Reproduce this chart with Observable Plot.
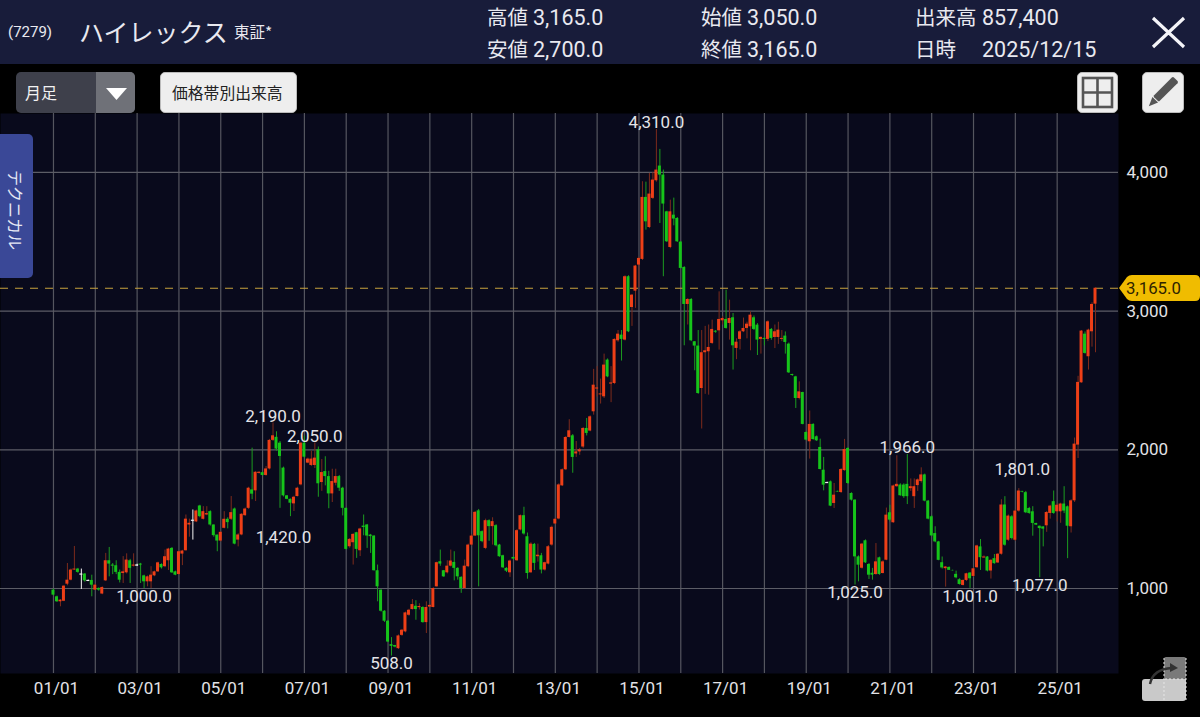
<!DOCTYPE html>
<html lang="ja">
<head>
<meta charset="utf-8">
<script src="https://cdn.jsdelivr.net/npm/d3@7"></script>
<script src="https://cdn.jsdelivr.net/npm/@observablehq/plot@0.6"></script>
<style>
html,body{margin:0;padding:0;background:#000;width:1200px;height:717px;overflow:hidden;font-family:Roboto,"Noto Sans CJK JP",sans-serif;color:#e9e9f0}
#top{position:relative;width:1200px;height:113px;background:#000}
#hdr{position:absolute;left:0;top:0;width:1200px;height:64px;background:#181c3a}
.t{position:absolute;white-space:nowrap;line-height:1}
.j{font-family:"Noto Sans CJK JP";font-size:20.5px}
.n{font-family:Roboto;font-size:21.5px}
.btn{position:absolute;top:72px;height:41px;background:#eeeeee;border-radius:5px;box-sizing:border-box;border:1px solid #bbb}
#chart{display:block;width:1200px;height:604px}
#tab{position:absolute;left:0;top:134px;width:33px;height:144px;background:#3a4897;border-radius:0 5px 5px 0}
#tab span{position:absolute;left:6px;top:36px;writing-mode:vertical-rl;text-orientation:sideways;font:16px/20px "Noto Sans CJK JP";color:#e6e8f5}
.ov{position:absolute;left:0;top:0;pointer-events:none}
</style>
</head>
<body>
<div id="top">
  <div id="hdr"></div>
  <span class="t" style="left:8px;top:25px;font-size:15px">(7279)</span>
  <span class="t" style="left:79px;top:19px;font-family:'Noto Sans CJK JP';font-size:25px">ハイレックス</span>
  <span class="t" style="left:234px;top:24px;font-family:'Noto Sans CJK JP';font-size:15.5px">東証*</span>
  <span class="t j" style="left:487px;top:6px">高値</span><span class="t n" style="left:533px;top:7px">3,165.0</span>
  <span class="t j" style="left:487px;top:38px">安値</span><span class="t n" style="left:533px;top:39px">2,700.0</span>
  <span class="t j" style="left:701px;top:6px">始値</span><span class="t n" style="left:747px;top:7px">3,050.0</span>
  <span class="t j" style="left:701px;top:38px">終値</span><span class="t n" style="left:747px;top:39px">3,165.0</span>
  <span class="t j" style="left:915px;top:6px">出来高</span><span class="t n" style="left:982px;top:7px">857,400</span>
  <span class="t j" style="left:915px;top:38px">日時</span><span class="t n" style="left:982px;top:39px">2025/12/15</span>
  <div style="position:absolute;left:16px;top:72px;width:119px;height:41px;background:#3e404b;border-radius:5px;overflow:hidden">
    <div style="position:absolute;left:80px;top:0;width:39px;height:41px;background:#6f7178"></div>
  </div>
  <span class="t" style="left:25px;top:80px;font:16px/24px 'Noto Sans CJK JP';color:#f2f2f2">月足</span>
  <div class="btn" style="left:160px;width:137px"></div>
  <span class="t" style="left:172px;top:81px;font:15.8px/24px 'Noto Sans CJK JP';color:#222">価格帯別出来高</span>
  <div class="btn" style="left:1077px;width:41px"></div>
  <div class="btn" style="left:1142px;width:42px"></div>
</div>
<div id="chart"></div>
<div id="tab"><span>テクニカル</span></div>
<svg class="ov" width="1200" height="717" viewBox="0 0 1200 717">
  <path d="M1153 18L1184 47M1184 18L1153 47" stroke="#f4f4f8" stroke-width="3.2" fill="none"/>
  <path d="M106 88H127L116.5 100Z" fill="#fff"/>
  <g fill="none" stroke="#555" stroke-width="2.6"><rect x="1083" y="78" width="29" height="29"/><path d="M1097.5 78V107M1083 92.5H1112"/></g>
  <g transform="rotate(45 1163 92)"><rect x="1159" y="74" width="8" height="28" fill="#555" rx="1.5"/><path d="M1159 103H1167L1163 112Z" fill="#555"/></g>
  <path d="M1119 288L1127 277Q1129 275 1132 275H1195Q1200 275 1200 280V296Q1200 301 1195 301H1132Q1129 301 1127 299Z" fill="#f0bc00"/>
  <rect x="1164" y="657" width="22" height="22" rx="2" fill="#7a7a7a"/>
  <path d="M1142 682Q1142 679 1145 679H1186V698Q1186 701 1183 701H1145Q1142 701 1142 698Z" fill="#c9c9c9"/>
  <path d="M1164 658V701M1165 679H1186M1186 658V700" stroke="#e6e6e6" stroke-width="1" stroke-dasharray="2 2" fill="none"/>
  <path d="M1150 684Q1153 669 1172 668" stroke="#333" stroke-width="2.4" fill="none"/><path d="M1170 663L1178 668L1170 672Z" fill="#333"/>
</svg>
<span class="t" id="last" style="left:1126px;top:280px;font-size:16.8px;color:#2e2400"></span>
<script>
const opens = [
 988,940,904,908,1031,1060,1133,1140,1104,1104,1058,1058,
 988,1000,960,1055,1200,1169,1164,1116,1108,1113,1200,1161,
 1169,1176,1091,1048,1048,1091,1120,1173,1157,1200,1289,1120,
 1101,1248,1272,1458,1492,1480,1595,1499,1530,1554,1458,1385,
 1342,1434,1499,1499,1573,1349,1386,1525,1578,1711,1704,1830,
 1835,1815,1862,2068,2090,2048,1868,1668,1643,1610,1663,1747,
 2048,1904,1887,1887,2000,1764,1843,1807,1682,1759,1807,1723,
 1578,1301,1330,1402,1272,1450,1458,1385,1378,1128,988,836,
 764,595,588,566,662,687,807,848,872,862,863,754,
 866,863,1012,1193,1128,1113,1161,1188,1145,1080,1000,1157,
 1313,1378,1560,1410,1289,1489,1446,1453,1313,1236,1145,1113,
 1224,1200,1422,1525,1373,1113,1318,1229,1236,1133,1176,1313,
 1465,1501,1740,1856,2089,2101,1970,1985,2020,2154,2135,2274,
 2438,2396,2382,2647,2474,2478,2786,2827,2791,3248,3026,3144,
 3332,3373,3820,3603,3813,3940,4046,3981,3716,3459,3692,3668,
 3498,3315,3048,3084,2779,2748,2442,2700,2707,2767,2855,2858,
 2930,2940,2911,2952,2731,2796,2851,2875,2887,2952,2899,2796,
 2803,2796,2868,2810,2810,2796,2820,2762,2543,2526,2370,2413,
 2125,2058,2183,2094,2017,1853,1764,1769,1613,1700,1692,1850,
 2010,1685,1637,1228,1146,1344,1173,1110,1101,1221,1108,1204,
 1546,1474,1734,1746,1746,1751,1720,1662,1742,1771,1819,1630,
 1517,1396,1336,1186,1143,1152,1130,1102,1063,1022,1058,1111,
 1087,1150,1300,1220,1227,1126,1215,1184,1247,1602,1348,1517,
 1348,1558,1700,1691,1577,1553,1469,1449,1444,1452,1541,1626,
 1553,1553,1609,1589,1445,1632,2034,2483,2834,2671,2851,3050];
const closes = [
 952,904,916,1017,1060,1133,1140,1116,1104,1055,1058,1024,
 1024,988,1007,1200,1176,1161,1116,1060,1120,1205,1145,1169,
 1169,1168,1048,1084,1096,1120,1185,1149,1229,1284,1113,1096,
 1265,1270,1500,1470,1492,1559,1518,1554,1540,1458,1381,1342,
 1405,1499,1475,1547,1320,1386,1535,1573,1723,1680,1838,1838,
 1815,1862,2068,2101,2005,1952,1668,1643,1615,1658,1723,2048,
 1947,1933,1933,1940,1755,1836,1807,1682,1771,1807,1723,1578,
 1282,1354,1390,1282,1429,1440,1378,1374,1128,1012,836,764,
 614,583,578,658,699,824,843,884,848,870,754,863,
 878,1000,1186,1176,1084,1161,1198,1145,1084,1000,1161,1313,
 1378,1549,1380,1338,1489,1446,1482,1308,1229,1149,1125,1198,
 1212,1417,1525,1393,1108,1320,1181,1240,1133,1186,1301,1441,
 1499,1747,1856,2089,2137,1945,1985,2000,2154,2118,2238,2466,
 2446,2403,2611,2526,2482,2796,2834,2796,3248,2851,3115,3325,
 3380,3820,3644,3844,3945,4017,3981,3772,3500,3716,3664,3500,
 3308,3048,3084,2786,2748,2406,2700,2714,2738,2868,2848,2940,
 2947,2875,2947,2750,2776,2851,2875,2906,2971,2868,2791,2810,
 2796,2923,2803,2851,2863,2803,2774,2555,2536,2370,2418,2183,
 2070,2183,2074,2065,1858,1745,1764,1594,1673,1696,1858,2002,
 1757,1637,1228,1168,1320,1185,1096,1096,1192,1101,1192,1529,
 1493,1739,1751,1669,1662,1662,1734,1734,1783,1819,1630,1500,
 1379,1336,1203,1148,1155,1131,1128,1077,1029,1058,1106,1070,
 1142,1307,1222,1227,1126,1203,1179,1247,1602,1312,1522,1360,
 1558,1703,1695,1546,1541,1469,1457,1432,1428,1548,1594,1541,
 1600,1609,1558,1449,1632,2041,2486,2856,2695,2863,3048,3165];
const highs = [
 995,945,920,1020,1180,1140,1303,1145,1140,1108,1060,1096,
 1030,1005,1012,1253,1296,1180,1200,1133,1230,1250,1210,1250,
 1175,1181,1096,1090,1157,1125,1190,1178,1277,1290,1295,1125,
 1270,1275,1530,1500,1566,1565,1600,1590,1590,1560,1385,1345,
 1410,1554,1510,1663,1580,1395,1540,1580,1730,2012,1842,1842,
 1840,1880,2075,2193,2130,2060,1875,1670,1645,1665,1730,2055,
 2100,1940,1990,2050,2020,1930,1950,1845,1860,1860,1815,1730,
 1580,1360,1395,1405,1435,1530,1462,1390,1380,1169,990,840,
 770,646,590,665,705,830,850,920,912,890,868,904,
 884,1005,1190,1277,1130,1200,1277,1265,1150,1085,1205,1320,
 1390,1555,1570,1415,1500,1495,1510,1460,1318,1240,1150,1205,
 1228,1425,1530,1586,1400,1330,1325,1320,1253,1190,1310,1450,
 1505,1755,1862,2095,2217,2110,2060,2010,2160,2226,2245,2580,
 2600,2510,2690,2655,2600,2800,2860,2860,3255,3255,3120,3330,
 3390,3933,3930,3993,4000,4310,4166,4017,3720,3800,3815,3675,
 3500,3320,3090,3090,2780,2860,2860,2890,2900,2935,2860,3139,
 2960,3151,3079,2983,2800,2860,2950,2920,2995,2965,2910,2815,
 2810,2930,2875,2900,2920,2860,2850,2770,2545,2530,2490,2415,
 2130,2280,2188,2100,2077,1945,1766,1775,1757,1702,1865,2075,
 2015,1690,1640,1235,1325,1350,1180,1145,1324,1226,1200,1580,
 1600,1745,1957,1755,1755,1966,1790,1790,1790,1870,1825,1635,
 1525,1445,1340,1227,1158,1155,1132,1125,1070,1062,1110,1115,
 1148,1312,1353,1235,1230,1208,1245,1252,1640,1662,1530,1525,
 1565,1720,1700,1700,1585,1590,1470,1450,1445,1555,1600,1703,
 1610,1615,1734,1595,1640,2085,2530,2860,2850,2870,3060,3165];
const lows = [
 945,900,868,905,1020,1055,1130,1110,993,1045,1055,940,
 985,980,955,1050,1084,1100,1100,1040,1036,1105,1036,1155,
 1160,1036,1000,1012,1000,1085,1115,1140,1150,1130,1108,1092,
 1095,1165,1270,1370,1349,1475,1510,1494,1525,1450,1370,1265,
 1335,1430,1430,1490,1315,1300,1380,1520,1570,1640,1627,1825,
 1810,1810,1855,2060,1990,1578,1660,1640,1518,1555,1660,1740,
 1940,1900,1880,1865,1658,1700,1740,1575,1620,1740,1700,1523,
 1278,1290,1169,1217,1230,1380,1289,1253,1125,904,830,755,
 610,513,572,560,655,680,800,845,771,845,750,675,
 860,860,1010,1160,1080,1105,1155,1055,1060,965,995,1150,
 1305,1375,1012,1330,1280,1340,1313,1300,1225,1145,1115,1080,
 1208,1195,1415,1385,1067,1110,1130,1190,1105,1125,1170,1305,
 1460,1495,1735,1850,2085,1831,1945,1960,2010,2100,2130,2250,
 2380,2330,2370,2520,2340,2470,2775,2640,2785,2845,2890,3020,
 3170,3365,3584,3595,3805,3930,3632,3248,3495,3450,3615,3495,
 3305,2750,2900,2780,2570,2400,2150,2400,2394,2760,2840,2719,
 2900,2870,2791,2575,2650,2720,2845,2800,2714,2860,2680,2690,
 2750,2780,2790,2730,2760,2780,2690,2550,2530,2298,2360,2180,
 2065,1933,2070,2060,1855,1704,1762,1590,1577,1694,1685,1845,
 1750,1630,1025,1048,1140,1180,1065,1060,1095,1095,1105,1200,
 1480,1470,1730,1665,1650,1605,1700,1577,1700,1760,1625,1495,
 1375,1330,1200,1140,1010,1130,1126,1070,1025,1018,1050,1001,
 1080,1145,1130,1218,1120,1068,1175,1180,1240,1305,1340,1350,
 1340,1550,1690,1540,1535,1377,1455,1077,1300,1405,1500,1535,
 1480,1470,1540,1215,1400,1620,1937,2480,2690,2575,2740,2700];

const priceTicks = [1000,2000,3000,4000];
const yearMonths = d3.range(0,289,12);
const tickMonths = d3.range(0,289,24);
const tickLabels = ["01/01","03/01","05/01","07/01","09/01","11/01","13/01","15/01","17/01","19/01","21/01","23/01","25/01"];
const lastPrice = 3165;
// extreme-value captions: text, month index, price at the caption's centre
const noteTexts = ["4,310.0","2,190.0","2,050.0","1,420.0","1,000.0","508.0","1,966.0","1,025.0","1,001.0","1,801.0","1,077.0"];
const noteMonths = [173,63,75,66,26,97,245,230,263,278,283];
const notePrices = [4360,2240,2096,1368,942,459,2017,971,942,1858,1022];

const UP="#ee3f17", DOWN="#16c41a", FLAT="#f4f4f4";
const WICK_UP="#7d2b1c", WICK_DOWN="#1c9c20";
const candles = opens.map((o,i)=>({i,o,h:Math.max(highs[i],o,closes[i]),l:Math.min(lows[i],o,closes[i]),c:closes[i]}));
const notes = noteTexts.map((t,k)=>({t,i:noteMonths[k],p:notePrices[k]}));
const dir = d => d.c>d.o?1:d.c<d.o?-1:0;

const svg = Plot.plot({
  width:1200, height:604,
  marginTop:0, marginBottom:44, marginLeft:0, marginRight:82,
  style:{background:"#000",fontFamily:"Roboto, sans-serif",fontSize:"17px",overflow:"visible"},
  x:{type:"linear",domain:[-15.2,305.6]},
  y:{type:"linear",domain:[387,4425]},
  marks:[
    Plot.frame({fill:"#090a1c",stroke:null}),
    Plot.ruleX(yearMonths,{stroke:"#55565f",strokeWidth:1.2}),
    Plot.ruleY(priceTicks,{stroke:"#5c5d66",strokeWidth:1.2}),
    Plot.ruleY([lastPrice],{stroke:"#c8a23c",strokeWidth:1.1,strokeDasharray:"8 7"}),
    Plot.ruleX(candles,{x:"i",y1:"l",y2:"h",strokeWidth:1,
      stroke:d=>dir(d)>0?WICK_UP:dir(d)<0?WICK_DOWN:FLAT}),
    Plot.rect(candles.filter(d=>dir(d)!==0),{x1:d=>d.i-0.43,x2:d=>d.i+0.43,y1:"o",y2:"c",
      fill:d=>dir(d)>0?UP:DOWN}),
    Plot.ruleY(candles.filter(d=>dir(d)===0),{y:"c",x1:d=>d.i-0.43,x2:d=>d.i+0.43,stroke:FLAT,strokeWidth:1.2}),
    Plot.text(notes,{x:"i",y:"p",text:"t",fill:"#e4e4e8",fontSize:17}),
    Plot.axisX({ticks:tickMonths,tickFormat:(d)=>tickLabels[tickMonths.indexOf(d)],tickSize:0,tickPadding:8,dx:3,label:null,color:"#e2e2e6",fontSize:17}),
    Plot.axisY({anchor:"right",ticks:priceTicks,tickFormat:d3.format(","),tickSize:0,tickPadding:8,label:null,color:"#e2e2e6",fontSize:17})
  ]
});
document.getElementById("chart").appendChild(svg);
document.getElementById("last").textContent = d3.format(",.1f")(lastPrice);
</script>
</body>
</html>
